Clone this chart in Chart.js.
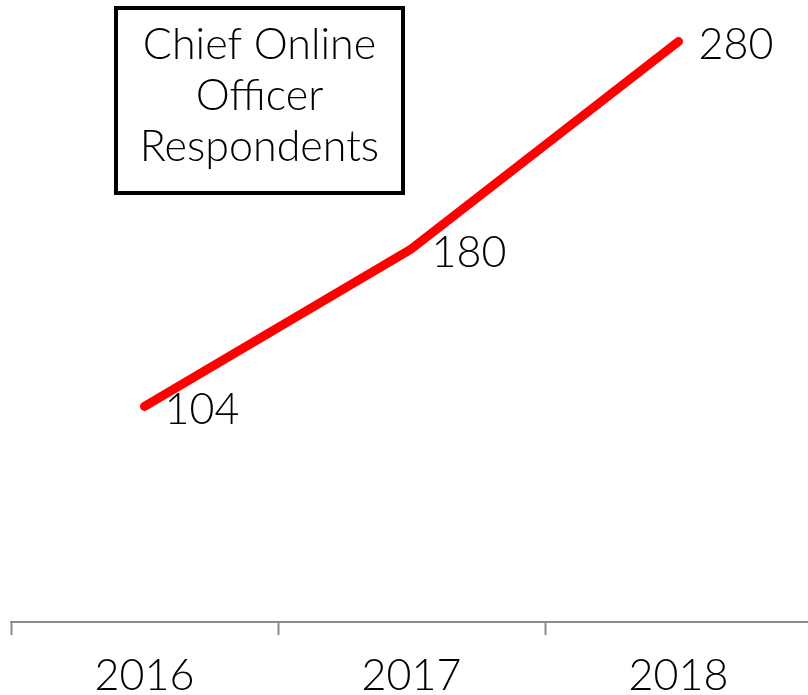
<!DOCTYPE html>
<html>
<head>
<meta charset="utf-8">
<script src="https://cdn.jsdelivr.net/npm/chart.js@4/dist/chart.umd.min.js"></script>
<style>
  html, body { margin: 0; padding: 0; background: #fff; overflow: hidden; }
  #wrap { position: relative; width: 812px; height: 695px; }
</style>
</head>
<body>
<div id="wrap"><canvas id="chart"></canvas></div>
<script>
const years = ['2016', '2017', '2018'];
const respondents = [104, 180, 280];
const titleLines = ['Chief Online', 'Officer', 'Respondents'];

const FONT = 'Lato, "Open Sans", sans-serif';

// Value labels placed to the right of each point
const valueLabels = {
  id: 'valueLabels',
  afterDatasetsDraw(chart) {
    const ctx = chart.ctx;
    const meta = chart.getDatasetMeta(0);
    ctx.save();
    ctx.font = '300 43px ' + FONT;
    ctx.fillStyle = '#000';
    ctx.textAlign = 'left';
    ctx.textBaseline = 'middle';
    meta.data.forEach((pt, i) => {
      ctx.fillText(String(respondents[i]), pt.x + 20, pt.y + 4);
    });
    ctx.restore();
  }
};

// Boxed caption in the upper left
const captionBox = {
  id: 'captionBox',
  afterDraw(chart) {
    const ctx = chart.ctx;
    ctx.save();
    ctx.lineWidth = 4;
    ctx.strokeStyle = '#000';
    ctx.strokeRect(116, 8, 287, 185);
    ctx.font = '300 43px ' + FONT;
    ctx.fillStyle = '#000';
    ctx.textAlign = 'center';
    ctx.textBaseline = 'middle';
    titleLines.forEach((t, i) => ctx.fillText(t, 259.5, 45 + i * 51));
    ctx.restore();
  }
};

new Chart(document.getElementById('chart'), {
  type: 'line',
  data: {
    labels: years,
    datasets: [{
      data: respondents,
      borderColor: '#ff0000',
      borderWidth: 9,
      borderCapStyle: 'round',
      borderJoinStyle: 'round',
      pointRadius: 0,
      tension: 0,
      clip: false
    }]
  },
  options: {
    responsive: true,
    maintainAspectRatio: false,
    animation: false,
    layout: { padding: { left: 11, right: 0, top: 0, bottom: 0 } },
    plugins: { legend: { display: false }, tooltip: { enabled: false } },
    scales: {
      x: {
        offset: true,
        afterFit(scale) { scale.height = 73; },
        grid: {
          offset: true,
          drawOnChartArea: false,
          drawTicks: true,
          tickLength: 13,
          tickWidth: 2,
          tickColor: '#8c8c8c'
        },
        border: { display: true, color: '#8c8c8c', width: 2 },
        ticks: {
          color: '#000',
          font: { family: FONT, size: 43, weight: '300', lineHeight: 0.86 },
          padding: 23
        }
      },
      y: {
        display: false,
        min: 0,
        max: 300
      }
    }
  },
  plugins: [valueLabels, captionBox]
});
</script>
</body>
</html>
